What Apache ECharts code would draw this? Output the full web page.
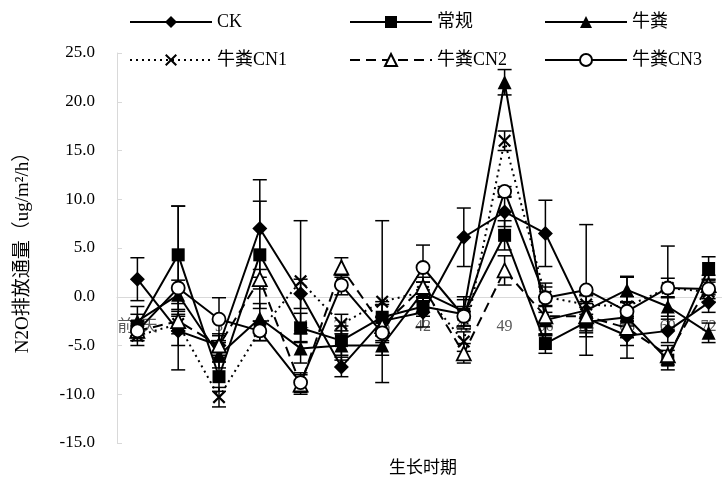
<!DOCTYPE html>
<html lang="zh">
<head>
<meta charset="UTF-8">
<title>N2O排放通量</title>
<script src="https://cdn.jsdelivr.net/npm/echarts@6/dist/echarts.min.js"></script>
<style>
  html, body { margin: 0; padding: 0; background: #fff; }
  #main { width: 722px; height: 478px; }
</style>
</head>
<body>
<div id="main"></div>
<script type="text/javascript">
// 生长时期（x 轴分类）
var categories = ['前1天', '1', '3', '7', '14', '21', '28', '42', '45', '49', '56', '63', '66', '69', '72'];

// 各处理 N2O 通量均值与标准差
var ck     = [1.8, -3.5, -5.0, 7.0, 0.3, -7.2, -2.5, -1.6, 6.1, 8.7, 6.5, -2.2, -4.0, -3.5, -0.6];
var ckSd   = [2.2, 1.5, 1.2, 5.0, 1.5, 1.0, 2.0, 1.5, 3.0, 1.5, 3.4, 1.5, 1.0, 1.2, 1.0];
var chang   = [-3.0, 4.3, -8.2, 4.3, -3.2, -4.5, -2.1, -1.0, -1.8, 6.3, -4.8, -2.6, -2.1, -6.5, 2.9];
var changSd = [1.2, 5.0, 1.5, 5.5, 1.5, 1.5, 1.3, 1.0, 1.5, 1.5, 1.0, 1.5, 4.2, 1.0, 1.2];
var niu    = [-2.5, 0.2, -6.0, -2.2, -5.3, -5.0, -5.0, 0.5, -1.5, 22.0, -2.4, -1.4, 0.7, -1.0, -3.7];
var niuSd  = [1.5, 1.5, 1.3, 1.5, 1.5, 1.5, 1.0, 1.0, 1.5, 1.3, 1.5, 1.5, 1.3, 1.0, 1.0];
var cn1    = [-4.0, -2.8, -10.3, -3.5, 1.6, -2.8, -0.5, 0.5, -4.6, 16.0, 0.0, -0.8, -1.0, 0.9, 0.5];
var cn1Sd  = [1.0, 1.0, 1.0, 1.0, 6.2, 1.0, 8.3, 1.0, 1.0, 1.0, 1.0, 1.0, 1.0, 4.3, 1.0];
var cn2    = [-3.5, -2.5, -5.0, 1.8, -9.0, 3.0, -3.0, 1.0, -5.8, 2.7, -2.0, -2.0, -3.2, -6.0, 1.2];
var cn2Sd  = [1.0, 1.0, 1.0, 1.0, 1.0, 1.0, 1.0, 1.0, 1.0, 1.5, 2.0, 1.5, 1.0, 1.0, 1.0];
var cn3    = [-3.5, 0.9, -2.3, -3.5, -8.8, 1.2, -3.7, 3.0, -2.0, 10.8, -0.1, 0.7, -1.5, 0.9, 0.8];
var cn3Sd  = [1.0, 8.4, 2.2, 1.0, 1.0, 1.0, 1.0, 2.3, 1.0, 0.5, 1.5, 6.7, 1.0, 1.0, 1.0];

var names = ['CK', '常规', '牛粪', '牛粪CN1', '牛粪CN2', '牛粪CN3'];
var means = [ck, chang, niu, cn1, cn2, cn3];
var sds = [ckSd, changSd, niuSd, cn1Sd, cn2Sd, cn3Sd];

var FONT = '"Liberation Serif", "Times New Roman", "Noto Sans CJK SC", serif';
var crossPath = 'path://M0,1.2L1.2,0L5,3.8L8.8,0L10,1.2L6.2,5L10,8.8L8.8,10L5,6.2L1.2,10L0,8.8L3.8,5Z';

var styles = [
    { symbol: 'diamond', fill: '#000', type: 'solid', size: 15 },
    { symbol: 'rect', fill: '#000', type: 'solid', size: 13 },
    { symbol: 'triangle', fill: '#000', type: 'solid', size: 14 },
    { symbol: crossPath, fill: '#000', type: [2, 4], size: 13 },
    { symbol: 'triangle', fill: '#fff', type: [10, 6], size: 14 },
    { symbol: 'circle', fill: '#fff', type: 'solid', size: 13 }
];

// 坐标区
var GRID_TOP = 53, GRID_BOTTOM = 35, H = 478;
var Y_MIN = -15, Y_MAX = 25;
var plotH = H - GRID_TOP - GRID_BOTTOM;
// x 轴放在 0 值处（向上偏移）
var zeroOffset = plotH * (0 - Y_MIN) / (Y_MAX - Y_MIN);

var myChart = echarts.init(document.getElementById('main'));

// 误差线数据 [类目序号, 下限, 上限]
var errData = [];
means.forEach(function (arr, s) {
    arr.forEach(function (v, i) {
        errData.push([i, v - sds[s][i], v + sds[s][i]]);
    });
});

var series = [{
    type: 'custom',
    name: 'err',
    z: 1,
    silent: true,
    data: errData,
    encode: { x: 0, y: [1, 2] },
    renderItem: function (params, api) {
        var x = api.coord([api.value(0), api.value(1)])[0];
        var lo = api.coord([api.value(0), api.value(1)])[1];
        var hi = api.coord([api.value(0), api.value(2)])[1];
        var w = 7;
        var st = { stroke: '#000', lineWidth: 1.5 };
        return {
            type: 'group',
            children: [
                { type: 'line', shape: { x1: x, y1: lo, x2: x, y2: hi }, style: st },
                { type: 'line', shape: { x1: x - w, y1: hi, x2: x + w, y2: hi }, style: st },
                { type: 'line', shape: { x1: x - w, y1: lo, x2: x + w, y2: lo }, style: st }
            ]
        };
    }
}];

names.forEach(function (n, s) {
    var st = styles[s];
    series.push({
        name: n,
        type: 'line',
        z: 3,
        data: means[s],
        symbol: st.symbol,
        symbolSize: st.size,
        showAllSymbol: true,
        lineStyle: { color: '#000', width: 2, type: st.type },
        itemStyle: {
            color: st.fill,
            borderColor: '#000',
            borderWidth: st.fill === '#fff' ? 1.8 : 0,
            opacity: 1
        }
    });
});

// 图例：两行三列
var legendPos = [[124, 8], [344, 8], [539, 8], [124, 46], [344, 46], [539, 46]];
var legends = names.map(function (n, i) {
    return {
        data: [n],
        left: legendPos[i][0],
        top: legendPos[i][1],
        itemWidth: 82,
        itemHeight: 15,
        itemGap: 0,
        textStyle: { fontFamily: FONT, fontSize: 18, color: '#000', padding: [0, 0, 0, 0] }
    };
});

var option = {
    animation: false,
    backgroundColor: '#fff',
    legend: legends,
    grid: { left: 117, top: GRID_TOP, width: 612, bottom: GRID_BOTTOM, containLabel: false, outerBoundsMode: 'none' },
    xAxis: {
        type: 'category',
        data: categories,
        boundaryGap: true,
        offset: -zeroOffset,
        name: '生长时期',
        nameLocation: 'middle',
        nameGap: 163,
        nameTextStyle: { fontFamily: FONT, fontSize: 17, color: '#000' },
        axisLine: { onZero: false, lineStyle: { color: '#d9d9d9', width: 1 } },
        axisTick: { inside: true, length: 4, lineStyle: { color: '#d9d9d9' } },
        axisLabel: { interval: 0, margin: 22, fontFamily: FONT, fontSize: 16, color: '#595959' },
        splitLine: { show: false }
    },
    yAxis: {
        type: 'value',
        min: Y_MIN,
        max: Y_MAX,
        interval: 5,
        name: 'N2O排放通量（ug/m²/h）',
        nameLocation: 'middle',
        nameGap: 84,
        nameTextStyle: { fontFamily: FONT, fontSize: 19, color: '#000' },
        axisLine: { show: true, onZero: false, lineStyle: { color: '#d9d9d9' } },
        axisTick: { show: true, inside: true, length: 5, lineStyle: { color: '#d9d9d9' } },
        axisLabel: {
            margin: 22,
            fontFamily: FONT,
            fontSize: 17,
            color: '#000',
            formatter: function (v) { return v.toFixed(1); }
        },
        splitLine: { show: false }
    },
    series: series
};

myChart.setOption(option);
</script>
</body>
</html>
